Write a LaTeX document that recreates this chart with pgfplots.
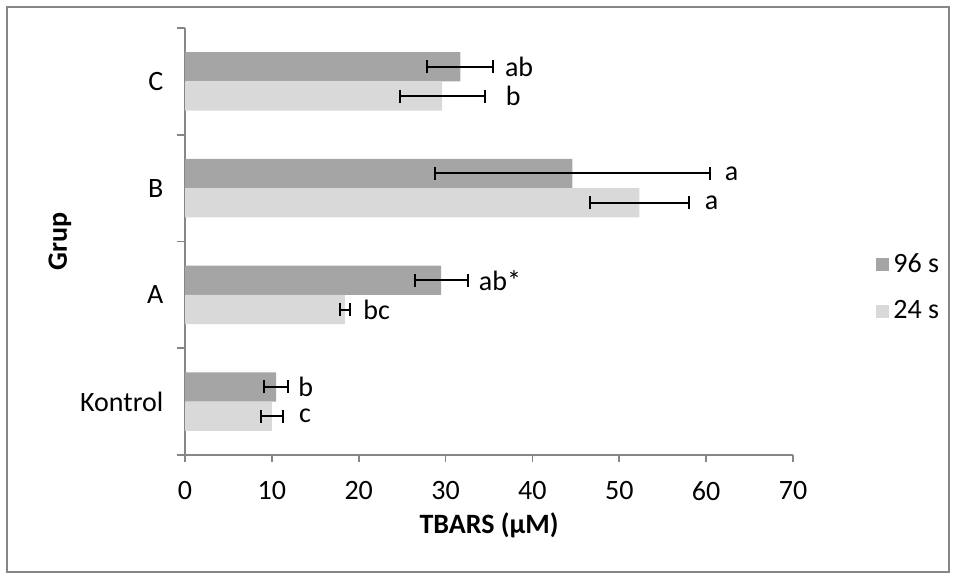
\documentclass[border=0pt]{standalone}
\usepackage{pgfplots}
\pgfplotsset{compat=1.18}
\usepackage{fontspec}
\setmainfont{Carlito}
\definecolor{darkbar}{HTML}{A5A5A5}
\definecolor{lightbar}{HTML}{D9D9D9}
\definecolor{axgray}{HTML}{868686}
\begin{document}
\fontsize{14}{16}\selectfont
\begin{tikzpicture}
\useasboundingbox (0,0) rectangle (478pt,289.5pt);
\draw[axgray, line width=0.6pt] (3.5pt,3.5pt) rectangle (474.5pt,286pt);
\begin{axis}[
  at={(92.5pt,62pt)}, anchor=south west,
  scale only axis, width=304pt, height=213.5pt,
  xbar, bar width=14.65pt,
  xmin=0, xmax=70, ymin=-0.5, ymax=3.5,
  axis x line*=bottom, axis y line*=left,
  axis line style={axgray, line width=0.8pt},
  xtick={0,10,...,70},
  ytick={0,1,2,3},
  yticklabels={Kontrol,A,B,C},
  minor ytick={-0.5,0.5,1.5,2.5,3.5},
  major tick length=0pt,
  minor tick length=4pt,
  extra x ticks={0,10,...,70}, extra x tick labels={},
  extra x tick style={major tick length=3.5pt, tick style={axgray, line width=0.8pt}},
  tick align=outside,
  tick style={axgray, line width=0.8pt},
  minor tick style={axgray, line width=0.8pt},
  /pgf/number format/assume math mode=true,
  ticklabel style={font=\fontsize{14}{16}\selectfont},
  xticklabel style={yshift=-8.5pt},
  yticklabel style={xshift=-6pt},
  xlabel={\textbf{TBARS (μM)}},
  ylabel={\textbf{Grup}},
  xlabel style={font=\fontsize{14}{16}\selectfont, at={(rel axis cs:0.5,0)}, anchor=center, yshift=-35pt},
  ylabel style={font=\fontsize{14}{16}\selectfont, at={(rel axis cs:0,0.5)}, anchor=center, yshift=62.5pt},
  legend style={draw=none, fill=none, at={(rel axis cs:1,0.391)}, anchor=west, xshift=41.5pt,
    font=\fontsize{14}{16}\selectfont, row sep=8pt, inner sep=0pt},
  legend cell align=left,
  error bars/error bar style={black, line width=1pt},
  error bars/error mark options={black, line width=1pt, mark size=3.25pt, rotate=90},
]
\addplot[fill=darkbar, draw=none, bar shift=7.33pt,
  legend image code/.code={\fill[darkbar] (0pt,-3.25pt) rectangle (6.5pt,3.25pt);},
  error bars/.cd, x dir=both, x explicit]
  coordinates {(10.5,0) +- (1.35,0) (29.5,1) +- (3.05,0) (44.6,2) +- (15.8,0) (31.7,3) +- (3.8,0)};
\addlegendentry{96 s}
\addplot[fill=lightbar, draw=none, bar shift=-7.33pt,
  legend image code/.code={\fill[lightbar] (0pt,-3.25pt) rectangle (6.5pt,3.25pt);},
  error bars/.cd, x dir=both, x explicit]
  coordinates {(10.0,0) +- (1.25,0) (18.4,1) +- (0.6,0) (52.3,2) +- (5.7,0) (29.6,3) +- (4.9,0)};
\addlegendentry{24 s}
\node[anchor=west, inner sep=0pt] at (axis cs:36.8,3.137) {ab};
\node[anchor=west, inner sep=0pt] at (axis cs:36.9,2.863) {b};
\node[anchor=west, inner sep=0pt] at (axis cs:62.1,2.137) {a};
\node[anchor=west, inner sep=0pt] at (axis cs:59.8,1.863) {a};
\node[anchor=west, inner sep=0pt] at (axis cs:33.8,1.137) {ab*};
\node[anchor=west, inner sep=0pt] at (axis cs:20.5,0.863) {bc};
\node[anchor=west, inner sep=0pt] at (axis cs:13.0,0.137) {b};
\node[anchor=west, inner sep=0pt] at (axis cs:13.1,-0.137) {c};
\end{axis}
\end{tikzpicture}
\end{document}
